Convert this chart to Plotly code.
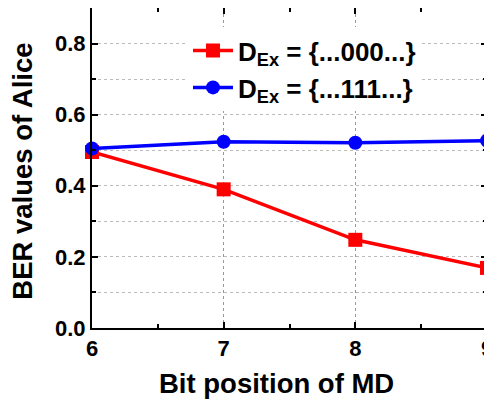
import plotly.graph_objects as go

bit_pos = [6, 7, 8, 9]
ber_000 = [0.495, 0.390, 0.248, 0.169]
ber_111 = [0.505, 0.524, 0.521, 0.527]
name_000 = "<b>D<sub>Ex</sub> = {...000...}</b>"
name_111 = "<b>D<sub>Ex</sub> = {...111...}</b>"
x_ticks = [6, 7, 8, 9]
y_ticks = [0.0, 0.2, 0.4, 0.6, 0.8]
x_title = "<b>Bit position of MD</b>"
y_title = "<b>BER values of Alice</b>"

FONT = "Liberation Sans, Arial, sans-serif"

fig = go.Figure()
fig.add_trace(go.Scatter(
    x=bit_pos, y=ber_000, name=name_000, mode="lines+markers",
    line=dict(color="#ff0000", width=3.5),
    marker=dict(symbol="square", size=14, color="#ff0000"),
    legendgroup="a", cliponaxis=False,
))
fig.add_trace(go.Scatter(
    x=bit_pos, y=ber_111, name=name_111, mode="lines+markers",
    line=dict(color="#0000ff", width=3.5),
    marker=dict(symbol="circle", size=14, color="#0000ff"),
    legendgroup="b", cliponaxis=False,
))

axis_common = dict(
    showline=True, linecolor="black", linewidth=2, mirror="ticks",
    ticks="inside", ticklen=6, tickwidth=2, tickcolor="black",
    tickfont=dict(family=FONT, size=22, color="black"),
    zeroline=False, automargin=False,
)

fig.update_xaxes(
    **axis_common,
    range=[6, 9], tickvals=x_ticks,
    ticktext=[f"<b>{v}</b>" for v in x_ticks],
    showgrid=True, gridcolor="#999999", griddash="dot", gridwidth=1,
    minor=dict(dtick=0.5, ticks="inside", ticklen=4, tickwidth=2,
               tickcolor="black", showgrid=False),
    ticklabelstandoff=0,
)
fig.update_yaxes(
    **axis_common,
    range=[0, 0.9], tickvals=y_ticks,
    ticktext=[f"<b>{v:.1f}</b>" for v in y_ticks],
    showgrid=False,
    minor=dict(dtick=0.1, tick0=0, ticks="inside", ticklen=4, tickwidth=2,
               tickcolor="black", showgrid=True, gridcolor="#bbbbbb",
               griddash="dot", gridwidth=1),
)

fig.add_annotation(
    text=x_title, xref="paper", yref="paper", x=0.466, y=-0.172,
    xanchor="center", yanchor="middle", showarrow=False,
    font=dict(family=FONT, size=27.5, color="black"),
)
fig.add_annotation(
    text=y_title, xref="paper", yref="paper", x=-0.176, y=0.49,
    xanchor="center", yanchor="middle", showarrow=False, textangle=-90,
    borderpad=0,
    font=dict(family=FONT, size=27.5, color="black"),
)

fig.update_layout(
    width=492, height=403,
    margin=dict(l=84, r=13, t=0, b=83),
    paper_bgcolor="white", plot_bgcolor="white",
    showlegend=True,
    legend=dict(
        x=0.243, y=0.94, xanchor="left", yanchor="top",
        bgcolor="white", borderwidth=0,
        font=dict(family=FONT, size=26, color="black"),
        tracegroupgap=0, itemwidth=40,
    ),
)

fig.write_html("out.html")
